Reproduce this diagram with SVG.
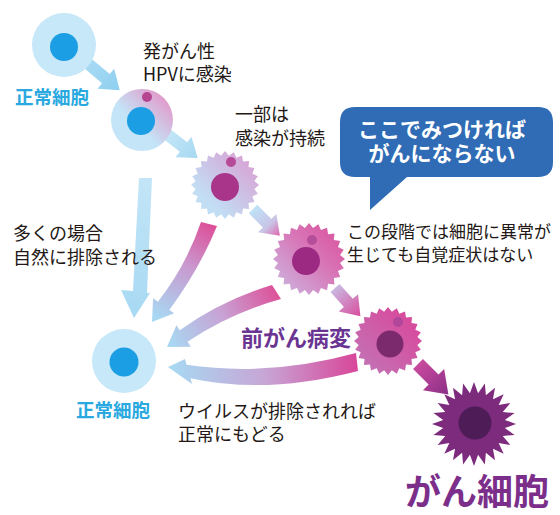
<svg xmlns="http://www.w3.org/2000/svg" xmlns:xlink="http://www.w3.org/1999/xlink" width="560" height="515" viewBox="0 0 560 515">
  <style>
    text { font-family: "Noto Sans CJK JP", "Noto Sans", sans-serif; }
    .note { font-size: 18px; fill: #231815; }
    .note-sm { font-size: 17px; fill: #231815; }
    .normal { font-size: 18.5px; font-weight: 700; fill: #2aa8e0; }
    .stage { font-size: 22px; font-weight: 700; fill: #6a3592; }
    .cancer { font-size: 36px; font-weight: 700; fill: #7b2f8a; }
    .bubble-text { font-size: 21px; font-weight: 700; fill: #ffffff; text-anchor: middle; }
  </style>
  <defs>
    <!-- 24-point spiky outline, unit radius 100 -->
    <polygon id="spiky" points="100,0 86.3,11.4 96.6,25.9 80.4,33.3 86.6,50 69,53 70.7,70.7 53,69 50,86.6 33.3,80.4 25.9,96.6 11.4,86.3 0,100 -11.4,86.3 -25.9,96.6 -33.3,80.4 -50,86.6 -53,69 -70.7,70.7 -69,53 -86.6,50 -80.4,33.3 -96.6,25.9 -86.3,11.4 -100,0 -86.3,-11.4 -96.6,-25.9 -80.4,-33.3 -86.6,-50 -69,-53 -70.7,-70.7 -53,-69 -50,-86.6 -33.3,-80.4 -25.9,-96.6 -11.4,-86.3 0,-100 11.4,-86.3 25.9,-96.6 33.3,-80.4 50,-86.6 53,-69 70.7,-70.7 69,-53 86.6,-50 80.4,-33.3 96.6,-25.9 86.3,-11.4"/>
    <!-- deeper spikes for the cancer cell -->
    <polygon id="spiky-deep" points="100,0 73.4,9.7 96.6,25.9 68.4,28.3 86.6,50 58.7,45.1 70.7,70.7 45.1,58.7 50,86.6 28.3,68.4 25.9,96.6 9.7,73.4 0,100 -9.7,73.4 -25.9,96.6 -28.3,68.4 -50,86.6 -45.1,58.7 -70.7,70.7 -58.7,45.1 -86.6,50 -68.4,28.3 -96.6,25.9 -73.4,9.7 -100,0 -73.4,-9.7 -96.6,-25.9 -68.4,-28.3 -86.6,-50 -58.7,-45.1 -70.7,-70.7 -45.1,-58.7 -50,-86.6 -28.3,-68.4 -25.9,-96.6 -9.7,-73.4 0,-100 9.7,-73.4 25.9,-96.6 28.3,-68.4 50,-86.6 45.1,-58.7 70.7,-70.7 58.7,-45.1 86.6,-50 68.4,-28.3 96.6,-25.9 73.4,-9.7"/>

    <!-- cell body fills: blue at lower left, pink at upper right -->
    <linearGradient id="g-infected" x1="0.15" y1="0.85" x2="0.9" y2="0.1">
      <stop offset="0.35" stop-color="#c4e5f7"/>
      <stop offset="1" stop-color="#e395c8"/>
    </linearGradient>
    <linearGradient id="g-persist" x1="0.1" y1="0.9" x2="0.9" y2="0.1">
      <stop offset="0.2" stop-color="#c2def4"/>
      <stop offset="1" stop-color="#d9a0d4"/>
    </linearGradient>
    <linearGradient id="g-lesion1" x1="0.1" y1="0.9" x2="0.9" y2="0.1">
      <stop offset="0" stop-color="#cdb0dc"/>
      <stop offset="0.6" stop-color="#d874b6"/>
      <stop offset="1" stop-color="#da56a0"/>
    </linearGradient>
    <linearGradient id="g-lesion2" x1="0.1" y1="0.9" x2="0.9" y2="0.1">
      <stop offset="0" stop-color="#c373b6"/>
      <stop offset="1" stop-color="#d9479a"/>
    </linearGradient>

    <!-- straight arrows, gradient along the arrow -->
    <linearGradient id="a-blue" x1="0" y1="0" x2="1" y2="0">
      <stop offset="0" stop-color="#a9dbf4"/>
      <stop offset="1" stop-color="#8dcff0"/>
    </linearGradient>
    <linearGradient id="a-blue-pale" x1="0" y1="0" x2="1" y2="0">
      <stop offset="0" stop-color="#c8e8f8"/>
      <stop offset="1" stop-color="#a6d8f2"/>
    </linearGradient>
    <linearGradient id="a-blue-pink" x1="0" y1="0" x2="1" y2="0">
      <stop offset="0" stop-color="#bfe2f6"/>
      <stop offset="0.6" stop-color="#c9c4e6"/>
      <stop offset="1" stop-color="#e064ad"/>
    </linearGradient>
    <linearGradient id="a-lilac-pink" x1="0" y1="0" x2="1" y2="0">
      <stop offset="0" stop-color="#c9b8e0"/>
      <stop offset="1" stop-color="#d94d9e"/>
    </linearGradient>
    <linearGradient id="a-purple" x1="0" y1="0" x2="1" y2="0">
      <stop offset="0" stop-color="#c84a9e"/>
      <stop offset="1" stop-color="#8c2f88"/>
    </linearGradient>

    <!-- return arrows: pink at the tail, light blue at the head -->
    <linearGradient id="r-down" gradientUnits="userSpaceOnUse" x1="145" y1="178" x2="135" y2="318">
      <stop offset="0" stop-color="#c3e5f7"/>
      <stop offset="1" stop-color="#a7d9f3"/>
    </linearGradient>
    <linearGradient id="r-persist" gradientUnits="userSpaceOnUse" x1="210" y1="224" x2="158" y2="318">
      <stop offset="0" stop-color="#dd4f98"/>
      <stop offset="0.45" stop-color="#c89ad0"/>
      <stop offset="1" stop-color="#a8d8f2"/>
    </linearGradient>
    <linearGradient id="r-lesion1" gradientUnits="userSpaceOnUse" x1="278" y1="290" x2="170" y2="345">
      <stop offset="0" stop-color="#dd4f98"/>
      <stop offset="0.5" stop-color="#c8a2d4"/>
      <stop offset="1" stop-color="#a8d8f2"/>
    </linearGradient>
    <linearGradient id="r-lesion2" gradientUnits="userSpaceOnUse" x1="356" y1="362" x2="172" y2="370">
      <stop offset="0" stop-color="#d8489a"/>
      <stop offset="0.5" stop-color="#c7a6d6"/>
      <stop offset="1" stop-color="#a8d8f2"/>
    </linearGradient>
  </defs>

  <!-- connectors -->
  <g id="connectors">
    <g transform="translate(86,62) rotate(40)">
      <polygon points="0,-6 26,-6 26,-13 44,0 26,13 26,6 0,6" fill="url(#a-blue)"/>
    </g>
    <g transform="translate(163,131) rotate(38)">
      <polygon points="0,-6 26,-6 26,-13 44,0 26,13 26,6 0,6" fill="url(#a-blue-pale)"/>
    </g>
    <g transform="translate(253,209) rotate(45)">
      <polygon points="0,-6 20,-6 20,-13 38,0 20,13 20,6 0,6" fill="url(#a-blue-pink)"/>
    </g>
    <g transform="translate(335,288) rotate(48)">
      <polygon points="0,-6 20,-6 20,-13 38,0 20,13 20,6 0,6" fill="url(#a-lilac-pink)"/>
    </g>
    <g transform="translate(418,364) rotate(45)">
      <polygon points="0,-7 22,-7 22,-15 43,0 22,15 22,7 0,7" fill="url(#a-purple)"/>
    </g>

    <!-- back to normal -->
    <polygon points="139,178 152,178 147,293 150,293 134,318 121,290 133,291" fill="url(#r-down)"/>
    <path d="M201,222 Q186,266 157.9,301.7 L153.1,298.3 L152,322 L174.1,313.3 L169.3,309.9 Q199,270 217,226 Z" fill="url(#r-persist)"/>
    <path d="M272,285 Q222,300 179.7,330.2 L176.4,325.2 L167,347 L190.8,346.8 L187.5,341.8 Q230,313 281,299 Z" fill="url(#r-lesion1)"/>
    <path d="M356,353 Q269,377 186.5,364.8 L185,359 L168,367 L192,384 L190.5,378.2 Q266,395 358,371 Z" fill="url(#r-lesion2)"/>
  </g>

  <!-- normal cell (start) -->
  <g id="normal-top">
    <circle cx="64" cy="45" r="32" fill="#c6e8f8"/>
    <circle cx="64" cy="47" r="14" fill="#1b9ee4"/>
    <text class="normal" x="15" y="104">正常細胞</text>
  </g>

  <!-- HPV infected cell -->
  <g id="infected">
    <circle cx="142" cy="120" r="31" fill="url(#g-infected)"/>
    <circle cx="141" cy="121" r="14" fill="#1b9ee4"/>
    <circle cx="147" cy="97" r="5" fill="#b5458f"/>
    <text class="note" x="143" y="58">発がん性</text>
    <text class="note" x="143" y="81">HPVに感染</text>
  </g>

  <!-- persistent infection -->
  <g id="persistent">
    <use xlink:href="#spiky" transform="translate(225,185) scale(0.34)" fill="url(#g-persist)"/>
    <circle cx="225" cy="187" r="14" fill="#a8358a"/>
    <circle cx="231" cy="162" r="5" fill="#b64a98"/>
    <text class="note" x="235" y="121">一部は</text>
    <text class="note" x="235" y="145">感染が持続</text>
  </g>

  <!-- precancerous lesion, early -->
  <g id="lesion-early">
    <use xlink:href="#spiky" transform="translate(309,259) scale(0.36)" fill="url(#g-lesion1)"/>
    <circle cx="306" cy="261" r="14" fill="#9c2a82"/>
    <circle cx="312" cy="240" r="5" fill="#b44e9a"/>
  </g>

  <!-- precancerous lesion, late -->
  <g id="lesion-late">
    <use xlink:href="#spiky" transform="translate(388,341) scale(0.34)" fill="url(#g-lesion2)"/>
    <circle cx="390" cy="344" r="13.5" fill="#7c2a6e"/>
    <circle cx="398" cy="322" r="5" fill="#b0479a"/>
    <text class="stage" x="241" y="346">前がん病変</text>
  </g>

  <!-- cancer cell -->
  <g id="cancer">
    <use xlink:href="#spiky-deep" transform="translate(474,424) scale(0.42)" fill="#7d2b7d"/>
    <circle cx="475" cy="423" r="16.5" fill="#4e1c57"/>
    <text class="cancer" x="405" y="505">がん細胞</text>
  </g>

  <!-- normal cell (recovered) -->
  <g id="normal-bottom">
    <circle cx="124" cy="361" r="32" fill="#c6e8f8"/>
    <circle cx="124" cy="362" r="14.5" fill="#1b9ee4"/>
    <text class="normal" x="76" y="417">正常細胞</text>
  </g>

  <!-- side notes -->
  <g id="note-cleared">
    <text class="note" x="13" y="240">多くの場合</text>
    <text class="note" x="13" y="264">自然に排除される</text>
  </g>
  <g id="note-recover">
    <text class="note" x="178" y="418">ウイルスが排除されれば</text>
    <text class="note" x="178" y="441">正常にもどる</text>
  </g>
  <g id="note-symptoms">
    <text class="note-sm" x="347" y="238">この段階では細胞に異常が</text>
    <text class="note-sm" x="347" y="261">生じても自覚症状はない</text>
  </g>

  <!-- callout -->
  <g id="callout">
    <path d="M355,107 H538 Q553,107 553,122 V162 Q553,177 538,177 H407 L370,210 L370,177 H355 Q340,177 340,162 V122 Q340,107 355,107 Z" fill="#2f6cb5"/>
    <text class="bubble-text" x="442" y="137">ここでみつければ</text>
    <text class="bubble-text" x="442" y="161">がんにならない</text>
  </g>
</svg>
